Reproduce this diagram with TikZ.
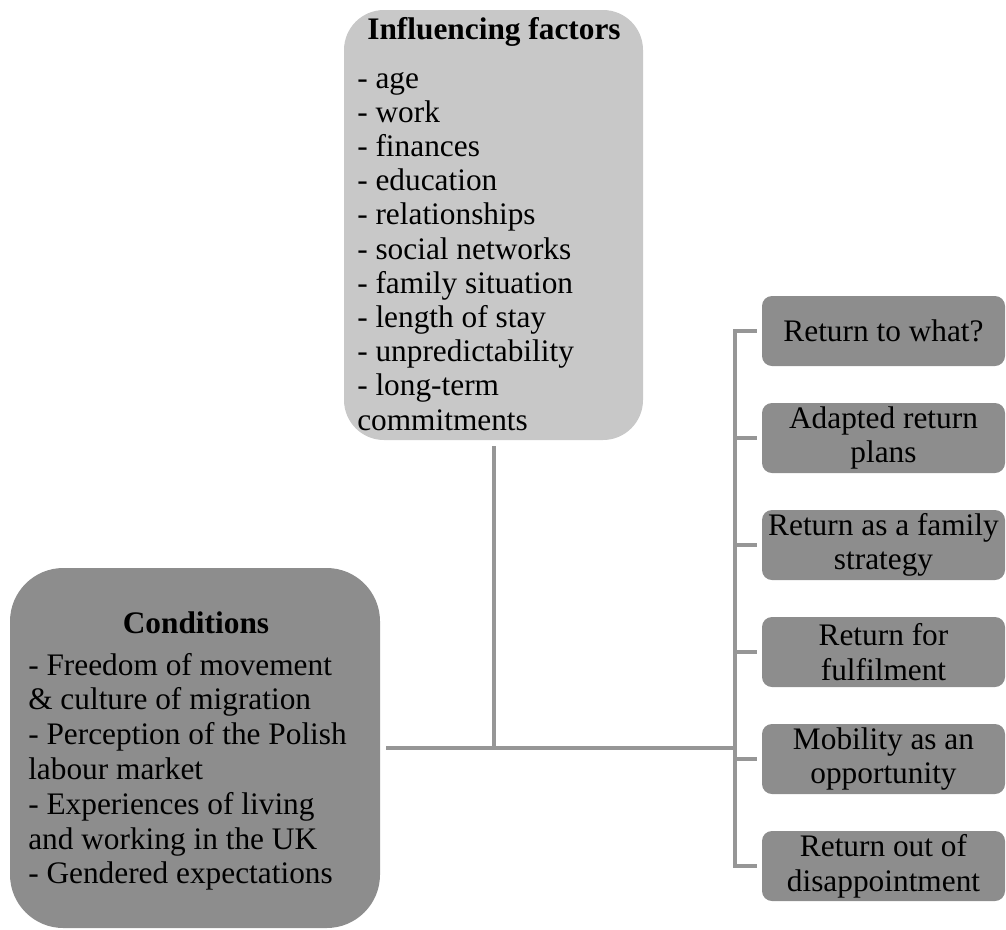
\documentclass[tikz,border=0pt]{standalone}
\usepackage{fontspec}
\setmainfont{Liberation Serif}
\usetikzlibrary{positioning,calc}
\definecolor{boxlight}{RGB}{200,200,200}
\definecolor{boxdark}{RGB}{141,141,141}
\definecolor{linkgray}{RGB}{150,150,150}

\begin{document}
\begin{tikzpicture}[x=0.75pt, y=-0.75pt,
  font=\fontsize{23.5}{26}\selectfont,
  panel/.style={draw=none, inner sep=0pt, anchor=center},
  factbox/.style={panel, fill=boxlight, rounded corners=30pt,
                  minimum width=224.25pt, minimum height=322.5pt},
  condbox/.style={panel, fill=boxdark, rounded corners=40pt,
                  minimum width=277.5pt, minimum height=270pt},
  retbox/.style={panel, fill=boxdark, rounded corners=7.5pt,
                 minimum width=182.25pt, minimum height=52.5pt, align=center},
  head/.style={font=\fontsize{23.5}{26}\selectfont\bfseries, anchor=base, inner sep=0pt},
  item/.style={anchor=base west, inner sep=0pt},
  link/.style={draw=linkgray, line width=3pt}]
\useasboundingbox (0,0) rectangle (1006,929);
% boxes
\node[factbox] (fact) at (493.5,225) {};
\node[condbox] (cond) at (195,748)   {};
\foreach \t [count=\i] in {Return to what?, Adapted return\\plans,
    Return as a family\\strategy, Return for\\fulfilment,
    Mobility as an\\opportunity, Return out of\\disappointment}
  \node[retbox] (r\i) at (883.5,{331+107*(\i-1)}) {\t};
% texts
\node[head] (facthead) at (494,39)  {Influencing factors};
\foreach \t [count=\i] in {- age, - work, - finances, - education,
    - relationships, - social networks, - family situation,
    - length of stay, - unpredictability, - long-term, commitments}
  \node[item] (f\i) at (357,{88+34.2*(\i-1)}) {\t};
\node[head] (condhead) at (196,633) {Conditions};
\foreach \t [count=\i] in {- Freedom of movement, \& culture of migration,
    - Perception of the Polish, labour market, - Experiences of living,
    and working in the UK, - Gendered expectations}
  \node[item] (c\i) at (28,{675+34.8*(\i-1)}) {\t};
% connectors
\coordinate (hub)   at (493.5,748);
\coordinate (spine) at (735,748);
\draw[link, shorten <=4.5pt] (fact) -- (hub);
\draw[link, shorten <=4.5pt] (cond) -- (spine);
\draw[link] (r1.west) ++(-5,0) -- ++(-22,0) |- ([xshift=-3.75pt]r6.west);
\foreach \i in {2,...,5}
  \draw[link] (r\i.west) ++(-5,0) -- ++(-22,0);
\end{tikzpicture}
\end{document}
